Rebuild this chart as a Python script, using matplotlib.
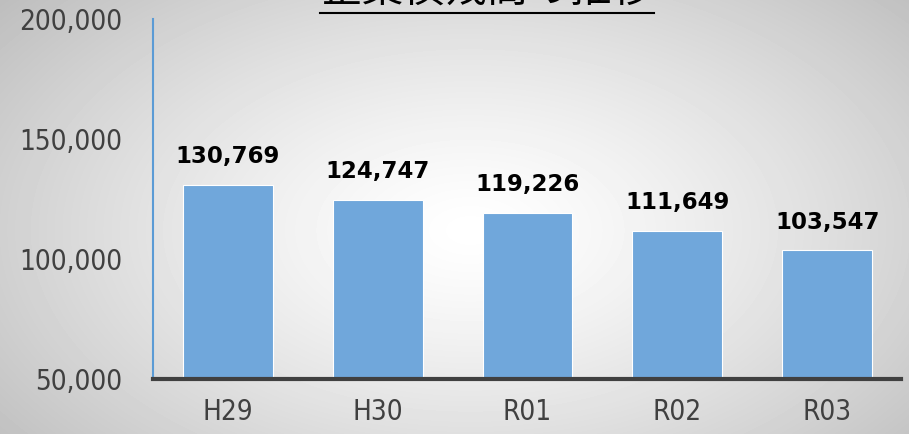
import numpy as np
import matplotlib.pyplot as plt

# data
years = ['H29', 'H30', 'R01', 'R02', 'R03']
balance = [130769, 124747, 119226, 111649, 103547]
title = '企業債残高の推移'

plt.rcParams['font.family'] = ['Noto Sans CJK JP', 'DejaVu Sans']

fig = plt.figure(figsize=(9.09, 4.34), dpi=100)

# radial gradient background
bg = fig.add_axes([0, 0, 1, 1])
yy, xx = np.mgrid[0:434, 0:909]
r = np.sqrt(((xx - 470) / 560.0) ** 2 + ((yy - 230) / 330.0) ** 2)
shade = 1.0 - 0.23 * np.clip(r, 0, 1.25) ** 1.3
bg.imshow(shade, cmap='gray', vmin=0, vmax=1, aspect='auto', extent=[0, 1, 0, 1])
bg.axis('off')

ax = fig.add_axes([0.168, 0.127, 0.823, 0.829])
ax.patch.set_alpha(0)
x = np.arange(len(years))
ax.bar(x, balance, width=0.6, color='#70a7db', edgecolor='white', linewidth=0.8, zorder=2)

ax.set_xlim(-0.5, 4.49)
ax.set_ylim(50000, 200000)
ax.set_yticks([50000, 100000, 150000, 200000])
ax.set_yticklabels([f'{v:,}' for v in [50000, 100000, 150000, 200000]])
ax.set_xticks(x)
ax.set_xticklabels(years)
ax.tick_params(length=0, labelsize=20, labelcolor='#404040')
ax.tick_params(axis='x', pad=14)
ax.tick_params(axis='y', pad=22)
for lab in ax.get_xticklabels() + ax.get_yticklabels():
    lab.set_family('DejaVu Sans')
    lab.set_stretch('condensed')

for s in ['top', 'right']:
    ax.spines[s].set_visible(False)
ax.spines['left'].set_color('#5b9bd5')
ax.spines['left'].set_linewidth(1.5)
ax.spines['bottom'].set_color('#404040')
ax.spines['bottom'].set_linewidth(3)
ax.spines['bottom'].set_zorder(3)

for xi, v in zip(x, balance):
    ax.annotate(f'{v:,}', (xi, v), xytext=(0, 12), textcoords='offset points',
                ha='center', va='bottom', fontsize=16.5, fontweight='bold',
                family='DejaVu Sans', color='black')

fig.text(0.536, 0.975, title, ha='center', va='bottom', fontsize=30,
         color='black')
fig.add_artist(plt.Line2D([0.352, 0.72], [0.971, 0.971], color='black', lw=1.5))

fig.savefig('out.png', dpi=100)
